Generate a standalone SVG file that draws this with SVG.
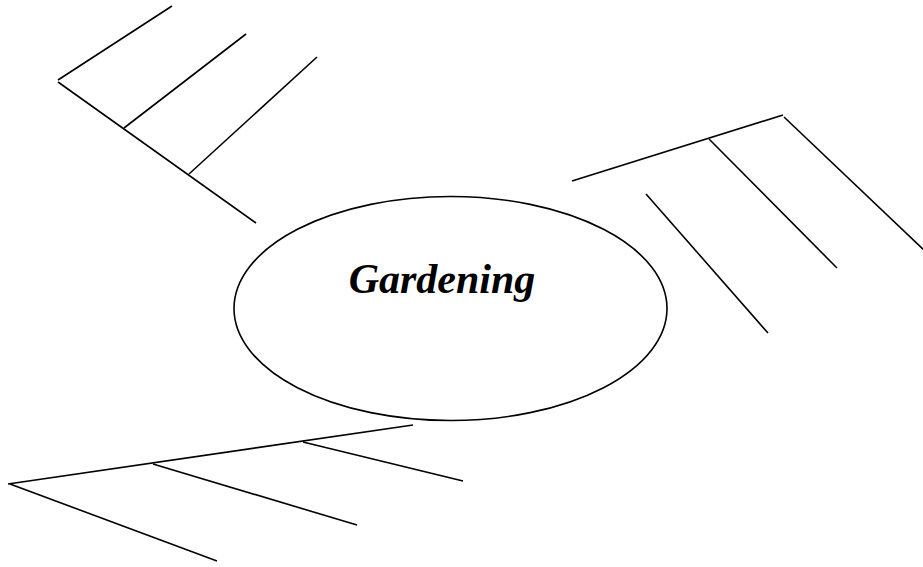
<svg xmlns="http://www.w3.org/2000/svg" width="923" height="567" viewBox="0 0 923 567">
<style>
.l{stroke:#000;stroke-width:1.6;fill:none;stroke-linecap:butt}
.t{font-family:"Liberation Serif","Times New Roman",serif;font-weight:bold;font-style:italic;font-size:42px;fill:#000}
</style>
<rect width="923" height="567" fill="#fff"/>
<g id="center">
<ellipse class="l" cx="450.5" cy="308.5" rx="216.5" ry="112"/>
<text class="t" x="442" y="293" text-anchor="middle">Gardening</text>
</g>
<g id="connectors">
<line class="l" x1="58" y1="80" x2="172" y2="6"/>
<line class="l" x1="124" y1="128" x2="246" y2="34"/>
<line class="l" x1="189" y1="174" x2="317" y2="57"/>
<line class="l" x1="58" y1="82" x2="256" y2="223"/>
<line class="l" x1="572" y1="181" x2="783" y2="115"/>
<line class="l" x1="709" y1="139" x2="837" y2="268"/>
<line class="l" x1="784" y1="117" x2="925" y2="251"/>
<line class="l" x1="646" y1="194" x2="768" y2="333"/>
<line class="l" x1="8" y1="484" x2="413" y2="425"/>
<line class="l" x1="153" y1="464" x2="357" y2="525"/>
<line class="l" x1="303" y1="442" x2="463" y2="481"/>
<line class="l" x1="10" y1="484" x2="217" y2="561"/>
</g>
</svg>
